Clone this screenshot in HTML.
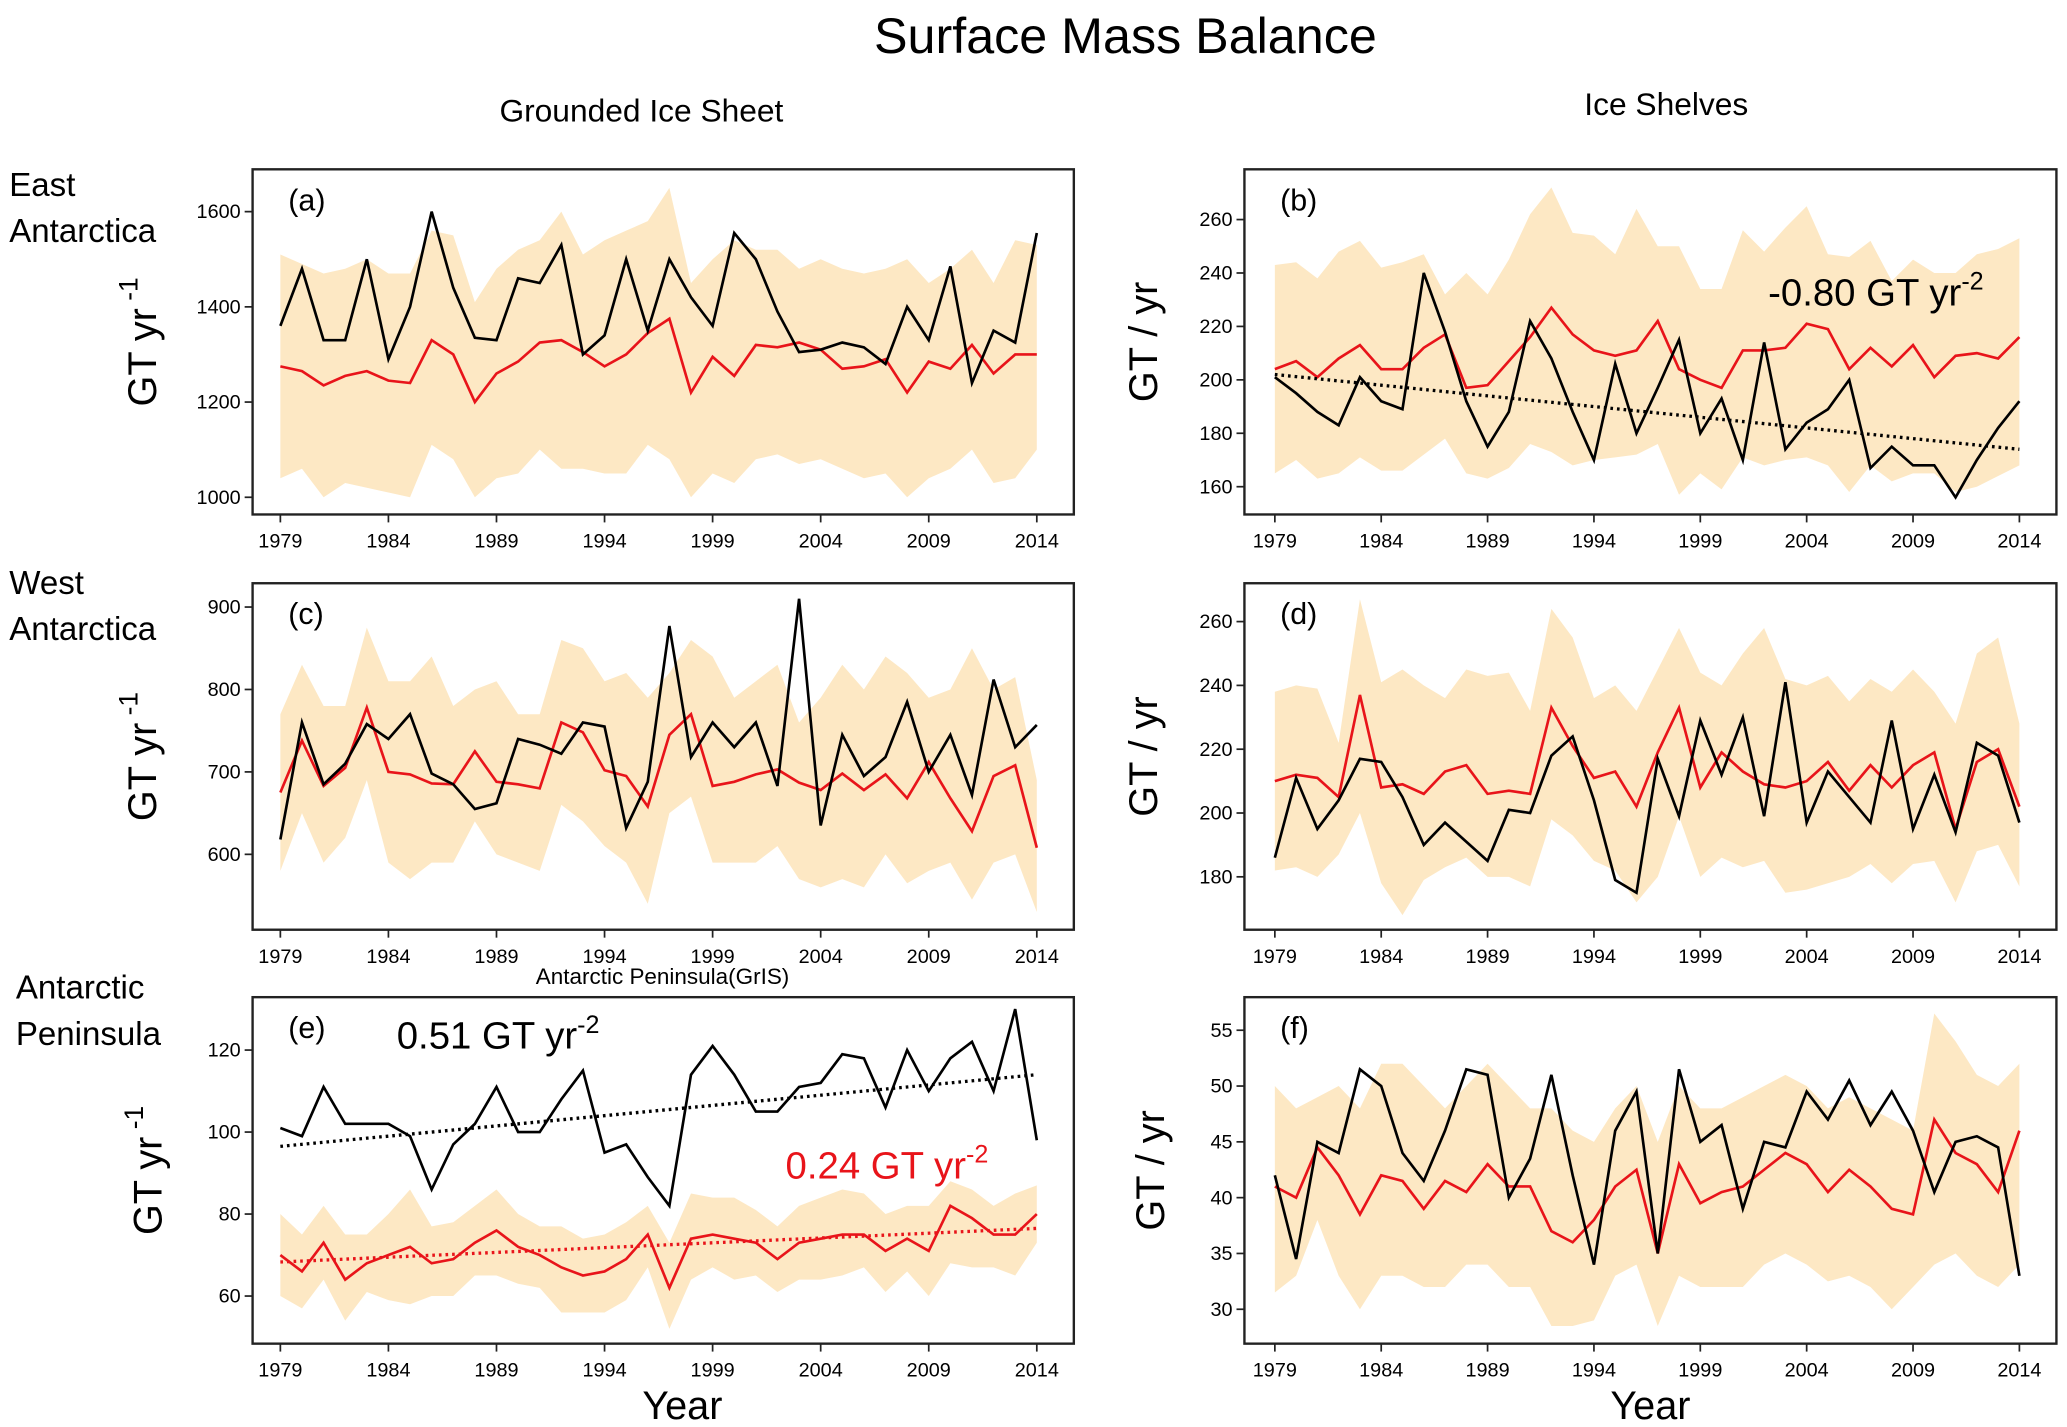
<!DOCTYPE html>
<html><head><meta charset="utf-8"><style>
html,body{margin:0;padding:0;background:#fff;}
svg{display:block;font-family:"Liberation Sans","DejaVu Sans",sans-serif;}
</style></head><body>
<svg id="fig" width="2067" height="1427" viewBox="0 0 1563 1079" xmlns="http://www.w3.org/2000/svg">
<text x="851" y="40" font-size="38" text-anchor="middle">Surface Mass Balance</text>
<text x="485" y="92" font-size="24" text-anchor="middle">Grounded Ice Sheet</text>
<text x="1260" y="87" font-size="24" text-anchor="middle">Ice Shelves</text>
<text x="7" y="148" font-size="25">East</text>
<text x="7" y="183" font-size="25">Antarctica</text>
<text x="7" y="449" font-size="25">West</text>
<text x="7" y="484" font-size="25">Antarctica</text>
<text x="12" y="755" font-size="25">Antarctic</text>
<text x="12" y="790" font-size="25">Peninsula</text>
<text x="501" y="744" font-size="17" text-anchor="middle">Antarctic Peninsula(GrIS)</text>
<text x="516" y="1073" font-size="30" text-anchor="middle">Year</text>
<text x="1248" y="1073" font-size="30" text-anchor="middle">Year</text>
<g id="panels"></g>
</svg>
<script>
const years=[];for(let y=1979;y<=2014;y++)years.push(y);
const xTicks=[1979,1984,1989,1994,1999,2004,2009,2014];
// (a)
const aBlack=[1360,1480,1330,1330,1500,1290,1400,1600,1440,1335,1330,1460,1450,1530,1300,1340,1500,1350,1500,1420,1360,1555,1500,1390,1305,1310,1325,1315,1280,1400,1330,1485,1240,1350,1325,1555];
const aRed=[1275,1265,1235,1255,1265,1245,1240,1330,1300,1200,1260,1285,1325,1330,1305,1275,1300,1345,1375,1220,1295,1255,1320,1315,1325,1310,1270,1275,1290,1220,1285,1270,1320,1260,1300,1300];
const aUpper=[1510,1490,1470,1480,1500,1470,1470,1560,1550,1410,1480,1520,1540,1600,1510,1540,1560,1580,1650,1450,1500,1540,1520,1520,1480,1500,1480,1470,1480,1500,1450,1480,1520,1450,1540,1530];
const aLower=[1040,1060,1000,1030,1020,1010,1000,1110,1080,1000,1040,1050,1100,1060,1060,1050,1050,1110,1080,1000,1050,1030,1080,1090,1070,1080,1060,1040,1050,1000,1040,1060,1100,1030,1040,1100];
const aTicks=[1000,1200,1400,1600];
// (b)
const bBlack=[201,195,188,183,201,192,189,240,218,192,175,188,222,208,188,170,206,180,197,215,180,193,170,214,174,184,189,200,167,175,168,168,156,170,182,192];
const bRed=[204,207,201,208,213,204,204,212,217,197,198,207,216,227,217,211,209,211,222,204,200,197,211,211,212,221,219,204,212,205,213,201,209,210,208,216];
const bUpper=[243,244,238,248,252,242,244,247,232,240,232,245,262,272,255,254,247,264,250,250,234,234,256,248,257,265,247,246,252,237,245,240,240,247,249,253];
const bLower=[165,170,163,165,171,166,166,172,178,165,163,167,176,173,168,170,171,172,176,157,165,159,171,168,170,171,168,158,168,162,165,165,158,160,164,168];
const bTicks=[160,180,200,220,240,260];
const bTrend=[202,174];
// (c)
const cBlack=[618,760,685,710,758,740,770,698,685,655,662,740,733,722,760,755,632,688,877,718,760,730,760,683,910,635,745,695,718,785,700,745,672,812,730,757];
const cRed=[675,738,683,705,778,700,697,686,685,725,688,685,680,760,748,702,695,658,745,770,683,688,697,703,687,678,698,678,697,668,712,668,628,695,708,608];
const cUpper=[770,830,780,780,875,810,810,840,780,800,810,770,770,860,850,810,820,790,820,860,840,790,810,830,760,790,830,800,840,820,790,800,850,800,815,690];
const cLower=[580,650,590,620,690,590,570,590,590,640,600,590,580,660,640,610,590,540,650,670,590,590,590,610,570,560,570,560,600,565,580,590,545,590,600,530];
const cTicks=[600,700,800,900];
// (d)
const dBlack=[186,211,195,204,217,216,205,190,197,191,185,201,200,218,224,204,179,175,217,199,229,212,230,199,241,197,213,205,197,229,195,212,194,222,218,197];
const dRed=[210,212,211,205,237,208,209,206,213,215,206,207,206,233,221,211,213,202,219,233,208,219,213,209,208,210,216,207,215,208,215,219,195,216,220,202];
const dUpper=[238,240,239,222,267,241,245,240,236,245,243,244,232,264,255,236,240,232,245,258,244,240,250,258,242,240,243,235,242,238,245,238,228,250,255,228];
const dLower=[182,183,180,187,200,178,168,179,183,186,180,180,177,198,193,185,182,172,180,199,180,186,183,185,175,176,178,180,184,178,184,185,172,188,190,177];
const dTicks=[180,200,220,240,260];
// (e)
const eBlack=[101,99,111,102,102,102,99,86,97,102,111,100,100,108,115,95,97,89,82,114,121,114,105,105,111,112,119,118,106,120,110,118,122,110,130,98];
const eRed=[70,66,73,64,68,70,72,68,69,73,76,72,70,67,65,66,69,75,62,74,75,74,73,69,73,74,75,75,71,74,71,82,79,75,75,80];
const eUpper=[80,75,82,75,75,80,86,77,78,82,86,80,77,77,74,75,78,82,73,85,84,84,81,77,82,84,86,85,80,82,82,88,86,82,85,87];
const eLower=[60,57,64,54,61,59,58,60,60,65,65,63,62,56,56,56,59,67,52,64,67,64,65,61,64,64,65,67,61,66,60,68,67,67,65,73];
const eTicks=[60,80,100,120];
const eTrendBlack=[96.5,114];
const eTrendRed=[68.3,76.5];
// (f)
const fBlack=[42,34.5,45,44,51.5,50,44,41.5,46,51.5,51,40,43.5,51,42,34,46,49.5,35,51.5,45,46.5,39,45,44.5,49.5,47,50.5,46.5,49.5,46,40.5,45,45.5,44.5,33];
const fRed=[41,40,44.5,42,38.5,42,41.5,39,41.5,40.5,43,41,41,37,36,38,41,42.5,35,43,39.5,40.5,41,42.5,44,43,40.5,42.5,41,39,38.5,47,44,43,40.5,46];
const fUpper=[50,48,49,50,48,52,52,50,48,50,52,50,48,48,46,45,48,50,45,50,48,48,49,50,51,50,48,49,48,47,46,56.5,54,51,50,52];
const fLower=[31.5,33,38,33,30,33,33,32,32,34,34,32,32,28.5,28.5,29,33,34,28.5,33,32,32,32,34,35,34,32.5,33,32,30,32,34,35,33,32,34];
const fTicks=[30,35,40,45,50,55];

const NS="http://www.w3.org/2000/svg";
const root=document.getElementById('panels');
function mk(tag,attrs,parent){const e=document.createElementNS(NS,tag);for(const k in attrs)e.setAttribute(k,attrs[k]);(parent||root).appendChild(e);return e;}

function panel(cfg){
  const g=mk('g',{});
  
  
  const x=y=>cfg.x0+(y-1979)*(cfg.x1-cfg.x0)/35;
  const yv=v=>cfg.py0+(v-cfg.v0)*(cfg.py1-cfg.py0)/(cfg.v1-cfg.v0);
  // band
  let d='M'+years.map((yr,i)=>x(yr)+','+yv(cfg.upper[i])).join('L');
  for(let i=years.length-1;i>=0;i--)d+='L'+x(years[i])+','+yv(cfg.lower[i]);
  const band=mk('path',{d:d+'Z',fill:'#fde8c4',stroke:'none'},g);
  
  
  const rl=mk('polyline',{points:years.map((yr,i)=>x(yr)+','+yv(cfg.red[i])).join(' '),fill:'none',stroke:'#e8141a','stroke-width':2},g);
  
  
  const bl=mk('polyline',{points:years.map((yr,i)=>x(yr)+','+yv(cfg.black[i])).join(' '),fill:'none',stroke:'#000','stroke-width':2},g);
  
  
  (cfg.trends||[]).forEach(t=>{
    const tl=mk('line',{x1:x(1979),y1:yv(t.v[0]),x2:x(2014),y2:yv(t.v[1]),stroke:t.c,'stroke-width':2.5,'stroke-dasharray':'2,3'},g);
    
    
  });
  const fr=mk('rect',{x:cfg.bx0,y:cfg.by0,width:cfg.bx1-cfg.bx0,height:cfg.by1-cfg.by0,fill:'none',stroke:'#222','stroke-width':1.8},g);
  
  
  xTicks.forEach(t=>{
    mk('line',{x1:x(t),y1:cfg.by1,x2:x(t),y2:cfg.by1+6,stroke:'#222','stroke-width':1.3},g);
    const tx=mk('text',{x:x(t),y:cfg.by1+25,'font-size':15,'text-anchor':'middle'},g);
    tx.textContent=t;
    
    
  });
  cfg.ticks.forEach(t=>{
    mk('line',{x1:cfg.bx0-6,y1:yv(t),x2:cfg.bx0,y2:yv(t),stroke:'#222','stroke-width':1.3},g);
    const tx=mk('text',{x:cfg.bx0-9,y:yv(t)+5,'font-size':15,'text-anchor':'end'},g);
    tx.textContent=t;
    
    
  });
  const lab=mk('text',{x:cfg.bx0+27,y:cfg.by0+31,'font-size':23},g);
  lab.textContent='('+cfg.id+')';
  
  
  const cy=(cfg.by0+cfg.by1)/2;
  const yt=mk('text',{x:0,y:0,'font-size':cfg.ytSize,'text-anchor':'middle',transform:'translate('+cfg.ytx+','+cy+') rotate(-90)'},g);
  yt.innerHTML=cfg.yt;
  
  
  return g;
}
const L={x0:212,x1:784,bx0:191,bx1:812};
const R={x0:964,x1:1527,bx0:941,bx1:1555};
const ytL='GT  yr<tspan font-size="20" dy="-14"> -1</tspan>';
panel(Object.assign({id:'a',black:aBlack,red:aRed,upper:aUpper,lower:aLower,ticks:aTicks,v0:1000,v1:1600,py0:376,py1:160,by0:128,by1:389,yt:ytL,ytx:118,ytSize:30},L));
const pb=panel(Object.assign({id:'b',black:bBlack,red:bRed,upper:bUpper,lower:bLower,ticks:bTicks,v0:160,v1:260,py0:368,py1:166,by0:128,by1:389,yt:'GT / yr',ytx:875,ytSize:30,trends:[{v:bTrend,c:'#000'}]},R));
panel(Object.assign({id:'c',black:cBlack,red:cRed,upper:cUpper,lower:cLower,ticks:cTicks,v0:600,v1:900,py0:646,py1:459,by0:441,by1:703,yt:ytL,ytx:118,ytSize:30},L));
panel(Object.assign({id:'d',black:dBlack,red:dRed,upper:dUpper,lower:dLower,ticks:dTicks,v0:180,v1:260,py0:663,py1:470,by0:441,by1:703,yt:'GT / yr',ytx:875,ytSize:30},R));
const pe=panel(Object.assign({id:'e',black:eBlack,red:eRed,upper:eUpper,lower:eLower,ticks:eTicks,v0:60,v1:120,py0:980,py1:794,by0:754,by1:1016,yt:ytL,ytx:122,ytSize:30,trends:[{v:eTrendBlack,c:'#000'},{v:eTrendRed,c:'#e8141a'}]},L));
panel(Object.assign({id:'f',black:fBlack,red:fRed,upper:fUpper,lower:fLower,ticks:fTicks,v0:30,v1:55,py0:990,py1:779,by0:754,by1:1016,yt:'GT / yr',ytx:880,ytSize:30},R));
function ann(parent,x,y,txt,col,name){
  const t=mk('text',{x:x,y:y,'font-size':29,fill:col},parent);
  t.innerHTML=txt+'<tspan font-size="19" dy="-12">-2</tspan>';
  
  
}
ann(pb,1337,231,'-0.80 GT yr','#000','trend-annotation-b');
ann(pe,300,793,'0.51 GT yr','#000','trend-annotation-e-black');
ann(pe,594,891,'0.24 GT yr','#e8141a','trend-annotation-e-red');
</script>
</body></html>
